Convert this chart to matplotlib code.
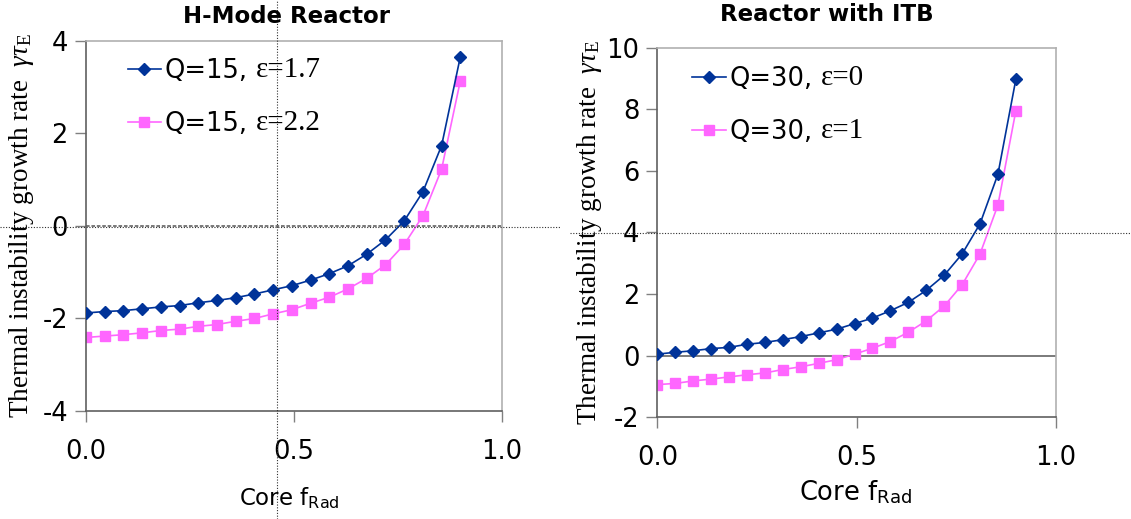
import matplotlib
matplotlib.use("Agg")
import matplotlib.pyplot as plt
from matplotlib.lines import Line2D

plt.rcParams['font.family'] = ['DejaVu Sans']
plt.rcParams['mathtext.fontset'] = 'custom'
plt.rcParams['mathtext.rm'] = 'Liberation Serif'
plt.rcParams['mathtext.it'] = 'Liberation Serif:italic'
plt.rcParams['axes.unicode_minus'] = False

# core radiated fraction (same grid for all curves)
f_rad = [0.0, 0.045, 0.09, 0.135, 0.18, 0.225, 0.27, 0.315, 0.36, 0.405, 0.45,
         0.495, 0.54, 0.585, 0.63, 0.675, 0.72, 0.765, 0.81, 0.855, 0.9]

# H-mode reactor
hmode_eps17 = [-1.88, -1.85, -1.83, -1.79, -1.75, -1.72, -1.66, -1.61, -1.55, -1.47, -1.38,
               -1.29, -1.17, -1.03, -0.86, -0.61, -0.30, 0.11, 0.74, 1.74, 3.66]
hmode_eps22 = [-2.41, -2.38, -2.35, -2.31, -2.26, -2.23, -2.17, -2.13, -2.06, -2.00, -1.90,
               -1.81, -1.67, -1.54, -1.36, -1.13, -0.84, -0.40, 0.22, 1.23, 3.14]

# reactor with ITB
itb_eps0 = [0.05, 0.11, 0.16, 0.23, 0.27, 0.37, 0.43, 0.52, 0.62, 0.74, 0.86,
            1.04, 1.22, 1.46, 1.73, 2.12, 2.61, 3.30, 4.28, 5.89, 8.97]
itb_eps1 = [-0.94, -0.90, -0.82, -0.76, -0.69, -0.62, -0.56, -0.45, -0.36, -0.25, -0.13,
            0.05, 0.24, 0.46, 0.76, 1.13, 1.61, 2.30, 3.30, 4.89, 7.95]

# legend labels: sans part + serif part (as in the original slide)
q_left = ["Q=15,", "Q=15,"]
eps_left = ["ε=1.7", "ε=2.2"]
q_right = ["Q=30,", "Q=30,"]
eps_right = ["ε=0", "ε=1"]

BLUE = '#003399'
PINK = '#ff66ff'
ylab = r"Thermal instability growth rate  $\gamma\tau_{\mathrm{E}}$"

fig = plt.figure(figsize=(11.31, 5.19), dpi=100)
ax1 = fig.add_axes([0.0760, 0.2081, 0.3678, 0.7129])
ax2 = fig.add_axes([0.5812, 0.1960, 0.3522, 0.7121])


def style(ax, ylim, yticks):
    ax.set_xlim(0, 1.0)
    ax.set_ylim(*ylim)
    ax.set_xticks([0.0, 0.5, 1.0])
    ax.set_xticklabels(['0.0', '0.5', '1.0'])
    ax.set_yticks(yticks)
    ax.tick_params(axis='both', labelsize=18.5, length=8, width=1, color='#808080')
    ax.tick_params(axis='x', pad=12)
    ax.tick_params(axis='y', pad=5)
    for s in ['top', 'right']:
        ax.spines[s].set_color('#b0b0b0')
    for s in ['left', 'bottom']:
        ax.spines[s].set_color('#606060')
    for s in ax.spines.values():
        s.set_linewidth(1.2)


def legend(ax, anchor):
    return ax.legend(loc='upper left', bbox_to_anchor=anchor, frameon=False, fontsize=18.5,
                     handlelength=1.3, handletextpad=0.15, labelspacing=1.05,
                     borderpad=0, borderaxespad=0)


style(ax1, (-4, 4), [-4, -2, 0, 2, 4])
ax1.axhline(0, color='#707070', lw=1.3, linestyle=(0, (2, 1)), zorder=1)
ax1.plot(f_rad, hmode_eps17, color=BLUE, marker='D', ms=6, lw=1.2, label=q_left[0], zorder=3)
ax1.plot(f_rad, hmode_eps22, color=PINK, marker='s', ms=7, lw=1.2, label=q_left[1], zorder=2)
leg1 = legend(ax1, (0.10, 0.955))
ax1.set_ylabel(ylab, fontsize=19.5, family='Liberation Serif')
ax1.yaxis.set_label_coords(-0.12, 0.5)

style(ax2, (-2, 10), [-2, 0, 2, 4, 6, 8, 10])
ax2.axhline(0, color='#707070', lw=1.3, zorder=1)
ax2.plot(f_rad, itb_eps0, color=BLUE, marker='D', ms=6, lw=1.2, label=q_right[0], zorder=3)
ax2.plot(f_rad, itb_eps1, color=PINK, marker='s', ms=7, lw=1.2, label=q_right[1], zorder=2)
leg2 = legend(ax2, (0.088, 0.95))
ax2.set_ylabel(ylab, fontsize=19.5, family='Liberation Serif')
ax2.yaxis.set_label_coords(-0.135, 0.5)

# serif part of each legend entry, placed right after the sans part
fig.canvas.draw()
W, H = fig.bbox.width, fig.bbox.height
for leg, parts in [(leg1, eps_left), (leg2, eps_right)]:
    for t, s in zip(leg.get_texts(), parts):
        bb = t.get_window_extent()
        fig.text((bb.x1 + 8) / W, (bb.y0 + bb.y1) / 2 / H + 0.002, s, family='Liberation Serif',
                 fontsize=21, ha='left', va='center')

fig.text(0.253, 0.968, 'H-Mode Reactor', ha='center', va='center', fontsize=16.5, fontweight='bold')
fig.text(0.731, 0.972, 'Reactor with ITB', ha='center', va='center', fontsize=16.5, fontweight='bold')
fig.text(0.256, 0.040, r'Core f$_{\mathsf{Rad}}$', ha='center', va='center', fontsize=16.5)
fig.text(0.756, 0.050, r'Core f$_{\mathsf{Rad}}$', ha='center', va='center', fontsize=18.5)

# dotted guide lines present in the source picture
fig.add_artist(Line2D([277 / 1131, 277 / 1131], [0, 1], color='#303030', lw=0.8,
                      linestyle=(0, (1, 1.5)), transform=fig.transFigure))
fig.add_artist(Line2D([0, 560 / 1131], [1 - 227 / 519, 1 - 227 / 519], color='#303030', lw=0.8,
                      linestyle=(0, (1, 1.5)), transform=fig.transFigure))
fig.add_artist(Line2D([570 / 1131, 1], [1 - 233 / 519, 1 - 233 / 519], color='#303030', lw=0.8,
                      linestyle=(0, (1, 1.5)), transform=fig.transFigure))

fig.savefig('out.png', dpi=100)
